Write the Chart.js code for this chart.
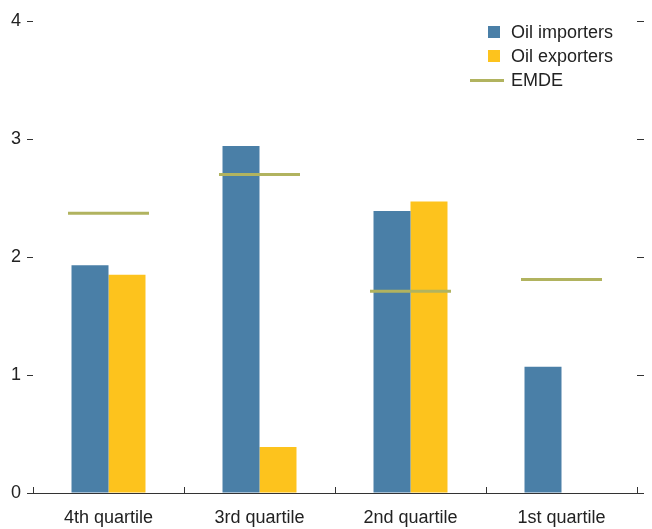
<!DOCTYPE html>
<html>
<head>
<meta charset="utf-8">
<script src="https://cdn.jsdelivr.net/npm/chart.js@4/dist/chart.umd.min.js"></script>
<style>
  html, body { margin: 0; padding: 0; background: #fff; }
  #wrap { position: relative; width: 652px; height: 529px; }
  canvas { display: block; }
  #legend { position: absolute; left: 470px; top: 20px; font-family: 'Liberation Sans Narrow', 'Arial Narrow', 'Liberation Sans', sans-serif; font-size: 18px; color: #222; line-height: 24px; }
  .item { display: flex; align-items: center; height: 24px; }
  .sym { width: 34px; height: 12px; margin-right: 7px; position: relative; }
  .sq { position: absolute; right: 4px; top: 0; width: 12px; height: 12px; }
  .ln { position: absolute; left: 0; top: 5px; width: 34px; height: 3px; }
</style>
</head>
<body>
<div id="wrap">
  <canvas id="c" width="652" height="529"></canvas>
  <div id="legend"></div>
</div>
<script>
const categories = ['4th quartile', '3rd quartile', '2nd quartile', '1st quartile'];
const oilImporters = [1.93, 2.94, 2.39, 1.07];
const oilExporters = [1.85, 0.39, 2.47, null];
const emde = [2.37, 2.70, 1.71, 1.81];
const yTicks = [0, 1, 2, 3, 4];

const COL_IMP = '#4a7fa7';
const COL_EXP = '#fdc31d';
const COL_EMDE = '#b1b35f';
const FONT = "'Liberation Sans Narrow', 'Arial Narrow', 'Liberation Sans', sans-serif";

// HTML legend
const legendItems = [
  { label: 'Oil importers', color: COL_IMP, type: 'sq' },
  { label: 'Oil exporters', color: COL_EXP, type: 'sq' },
  { label: 'EMDE', color: COL_EMDE, type: 'ln' }
];
const lg = document.getElementById('legend');
legendItems.forEach(it => {
  const d = document.createElement('div');
  d.className = 'item';
  d.innerHTML = '<span class="sym"><span class="' + it.type + '" style="background:' + it.color + '"></span></span><span>' + it.label + '</span>';
  lg.appendChild(d);
});

new Chart(document.getElementById('c'), {
  data: {
    labels: categories,
    datasets: [
      {
        type: 'line', label: 'EMDE', data: emde, showLine: false,
        pointStyle: 'line', pointRadius: 40.5, pointHoverRadius: 40.5,
        pointBorderWidth: 3, borderColor: COL_EMDE, backgroundColor: COL_EMDE,
        order: 0
      },
      {
        type: 'bar', label: 'Oil importers', data: oilImporters,
        backgroundColor: COL_IMP, categoryPercentage: 0.49, barPercentage: 1, order: 1
      },
      {
        type: 'bar', label: 'Oil exporters', data: oilExporters,
        backgroundColor: COL_EXP, categoryPercentage: 0.49, barPercentage: 1, order: 1
      }
    ]
  },
  options: {
    responsive: false,
    animation: false,
    layout: { autoPadding: false, padding: { left: 0, right: 8, top: 21, bottom: 2 } },
    plugins: { legend: { display: false }, tooltip: { enabled: false } },
    scales: {
      x: {
        offset: true,
        afterFit: s => { s.height = 34; },
        grid: { display: true, drawOnChartArea: false, drawTicks: true, tickLength: -6, offset: true, color: '#333', lineWidth: 1 },
        border: { display: true, color: '#333', width: 1 },
        ticks: { color: '#222', font: { family: FONT, size: 18 }, padding: 20 }
      },
      y: {
        position: 'left',
        min: 0, max: 4,
        afterBuildTicks: s => { s.ticks = yTicks.map(v => ({ value: v })); },
        afterFit: s => { s.width = 33; },
        grid: { display: true, drawOnChartArea: false, drawTicks: true, tickLength: 6, color: '#333', lineWidth: 1 },
        border: { display: false },
        ticks: { color: '#222', font: { family: FONT, size: 18 }, padding: 6 }
      },
      y2: {
        position: 'right',
        min: 0, max: 4,
        afterBuildTicks: s => { s.ticks = yTicks.map(v => ({ value: v })); },
        grid: { display: true, drawOnChartArea: false, drawTicks: true, tickLength: 7, color: '#333', lineWidth: 1 },
        border: { display: false },
        ticks: { display: false }
      }
    }
  }
});
</script>
</body>
</html>
